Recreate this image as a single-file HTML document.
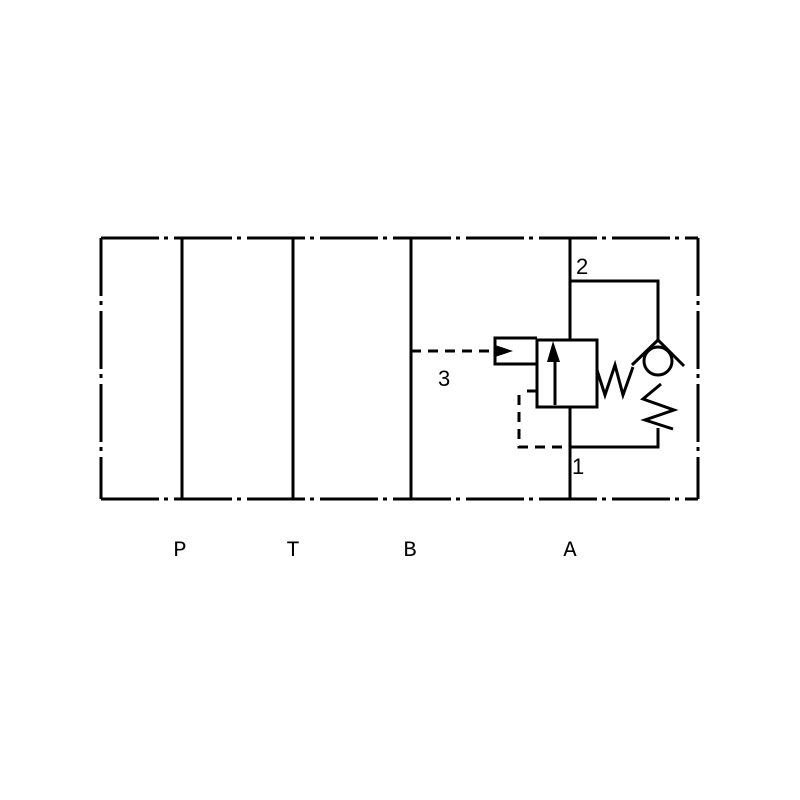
<!DOCTYPE html>
<html><head><style>html,body{margin:0;padding:0;background:#fff;}svg{display:block}
.m{font-family:"Liberation Mono","DejaVu Sans Mono",monospace;font-size:22px}
.s{font-family:"Liberation Sans",sans-serif;font-size:22px}</style></head>
<body>
<svg width="800" height="800" viewBox="0 0 800 800" xmlns="http://www.w3.org/2000/svg">
<g fill="none" stroke="#000" stroke-width="3">
<path d="M101 238 H698" stroke-dasharray="58 5 4 6"/>
<path d="M101 499 H698" stroke-dasharray="58 5 4 6"/>
<path d="M101 238 V499" stroke-dasharray="58 5 4 6"/>
<path d="M698 238 V499" stroke-dasharray="58 5 4 6"/>
<path d="M182 238 V499 M293 238 V499 M411 238 V499"/>
<path d="M570 238 V340 M570 407 V499"/>
<rect x="537" y="340" width="60" height="67"/>
<path d="M537 338 H495 V364 H537"/>
<path d="M555 405 V360"/>
<path d="M411 351 H495" stroke-dasharray="10 7"/>
<path d="M527 391 H537"/>
<path d="M519 395 V447 H570" stroke-dasharray="10 7"/>
<path d="M570 447 H658 V428"/>
<path d="M570 281 H658 V340"/>
<path d="M632 365 L658 340 L684 366"/>
<circle cx="658" cy="361" r="14"/>
<path d="M597 370 L605 395 L615 365 L623 395 L633 367"/>
<path d="M661 384 L643 399 L674 410 L645 420 L673 429"/>
</g>
<polygon points="553,341 547,362 560,362" fill="#000"/>
<polygon points="495,345 513,351 495,357" fill="#000"/>
<g class="s" fill="#000">
<text x="576" y="274">2</text>
<text x="572" y="474">1</text>
<text x="438" y="386">3</text>
</g>
<g class="m" fill="#000" text-anchor="middle">
<text x="180" y="556">P</text>
<text x="293" y="556">T</text>
<text x="410" y="556">B</text>
<text x="570" y="556">A</text>
</g>
</svg>
</body></html>
